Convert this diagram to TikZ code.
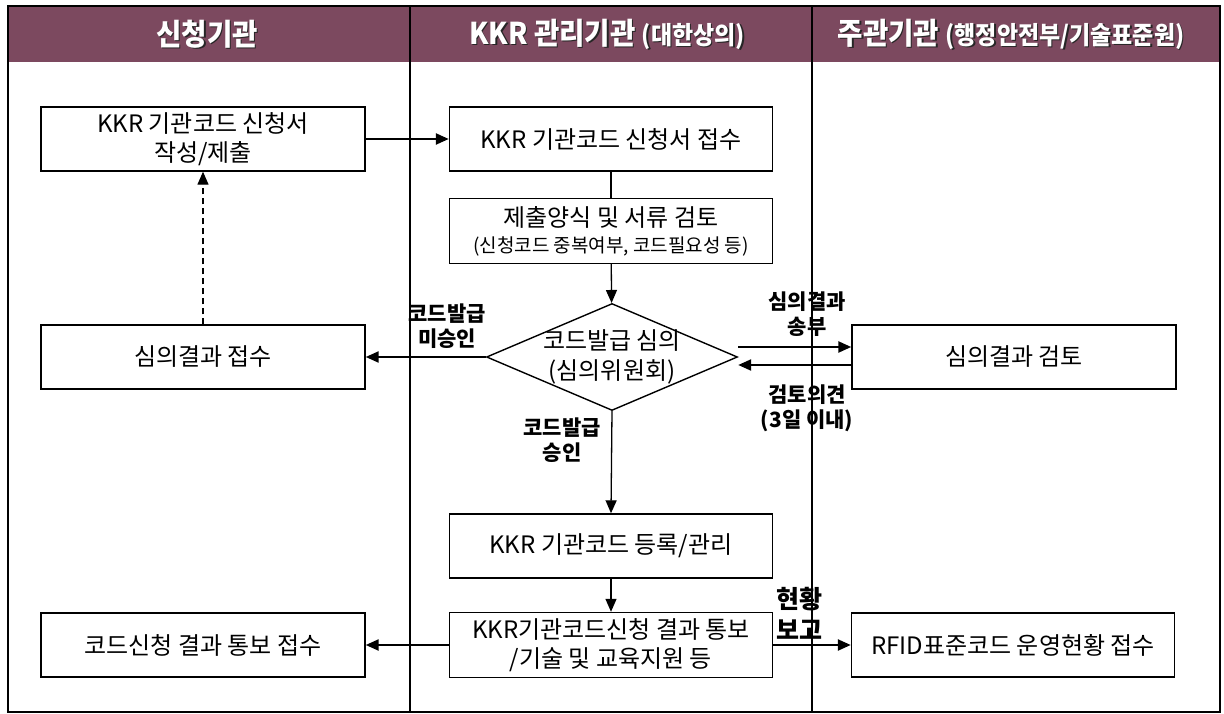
\documentclass[tikz,border=0pt]{standalone}
\usepackage{fontspec}
\setmainfont{Noto Sans CJK KR}
\usetikzlibrary{arrows.meta,shapes.geometric}
\definecolor{hdrbg}{RGB}{124,73,95}
\newcommand{\hdrlabel}[3]{%
  \node[hd,text=black!85] at ([xshift=1.5pt,yshift=-1.5pt]#1) {#3};
  \node[hd] (#2) at (#1) {#3};}
\begin{document}
\begin{tikzpicture}[x=1pt,y=-1pt,
  box/.style={draw,line width=1.4pt,minimum width=324pt,minimum height=64pt,inner sep=0pt,align=center,font=\fontsize{24}{29}\selectfont},
  dec/.style={draw,diamond,line width=1.4pt,minimum width=251pt,minimum height=107pt,inner sep=0pt},
  lbl/.style={font=\bfseries\fontsize{21}{25}\selectfont,align=center},
  hd/.style={text=white,font=\bfseries\fontsize{30}{32}\selectfont,xscale=0.92},
  arr/.style={-{Triangle[length=13pt,width=11pt]},line width=1.3pt},
  barr/.style={arr,line width=2.3pt}]
\useasboundingbox (0,0) rectangle (1224,714);
\fill[hdrbg] (8,6) rectangle (1220,62);
\draw[line width=1.6pt] (8,6) rectangle (1220,712);
\foreach \sx in {410,812}{\draw[line width=1.2pt](\sx,6)--(\sx,712);}
\hdrlabel{207,34}{hA}{신청기관}
\hdrlabel{607,34}{hB}{KKR 관리기관 {\fontsize{25}{26}\selectfont(대한상의)}}
\hdrlabel{1011,34}{hC}{주관기관 {\fontsize{25}{26}\selectfont(행정안전부/기술표준원)}}
% 신청기관
\node[box] (A1) at (203,139) {KKR 기관코드 신청서\\작성/제출};
\node[box] (A2) at (203,357) {심의결과 접수};
\node[box] (A3) at (203,645) {코드신청 결과 통보 접수};
% 관리기관
\node[box,minimum width=323pt] (B1) at (611,139) {KKR 기관코드 신청서 접수};
\node[box,minimum width=323pt,minimum height=65pt] (B2) at (611,231) {제출양식 및 서류 검토\\[-3pt]{\fontsize{19}{22}\selectfont(신청코드 중복여부, 코드필요성 등)}};
\node[dec,label={[font=\fontsize{24}{30}\selectfont,align=center]center:코드발급 심의\\(심의위원회)}] (dm) at (612,357) {};
\node[box,minimum width=323pt] (B3) at (611,546) {KKR 기관코드 등록/관리};
\node[box,minimum width=323pt,minimum height=65pt] (B4) at (611,645) {KKR기관코드신청 결과 통보\\/기술 및 교육지원 등};
% 주관기관
\node[box] (C1) at (1014,357) {심의결과 검토};
\node[box,minimum width=323pt] (C2) at (1013,645) {RFID표준코드 운영현황 접수};
% connectors
\draw[barr] (A1.east) -- (B1.west);
\draw[line width=1.3pt] (B1) -- (B2);
\draw[arr] (B2) -- (dm);
\draw[barr] (dm.west) -- (A2.east);
\draw[arr,dashed,dash pattern=on 6pt off 4pt] (A2.north) -- (A1.south);
\draw[barr] ([yshift=10pt]dm.east) -- ([yshift=10pt]dm.east -| C1.west);
\draw[barr] ([yshift=-8pt]C1.west) -- ([yshift=-8pt]C1.west -| dm.east);
\draw[arr] (dm.south) -- (B3.north);
\draw[arr] (B3) -- (B4);
\draw[barr] (B4.west) -- (A3.east);
\draw[barr] (B4.east) -- (C2.west);
% labels
\node[lbl] (nA) at (447,326) {코드발급\\미승인};
\node[lbl] (nB) at (562,440) {코드발급\\승인};
\node[lbl] (nC) at (807,314) {심의결과\\송부};
\node[lbl] (nD) at (807,408) {검토의견\\(3일 이내)};
\node[lbl,font=\bfseries\fontsize{25}{31}\selectfont,anchor=west,align=left] (nE) at (773,613) {현황\\보고};
\end{tikzpicture}
\end{document}
